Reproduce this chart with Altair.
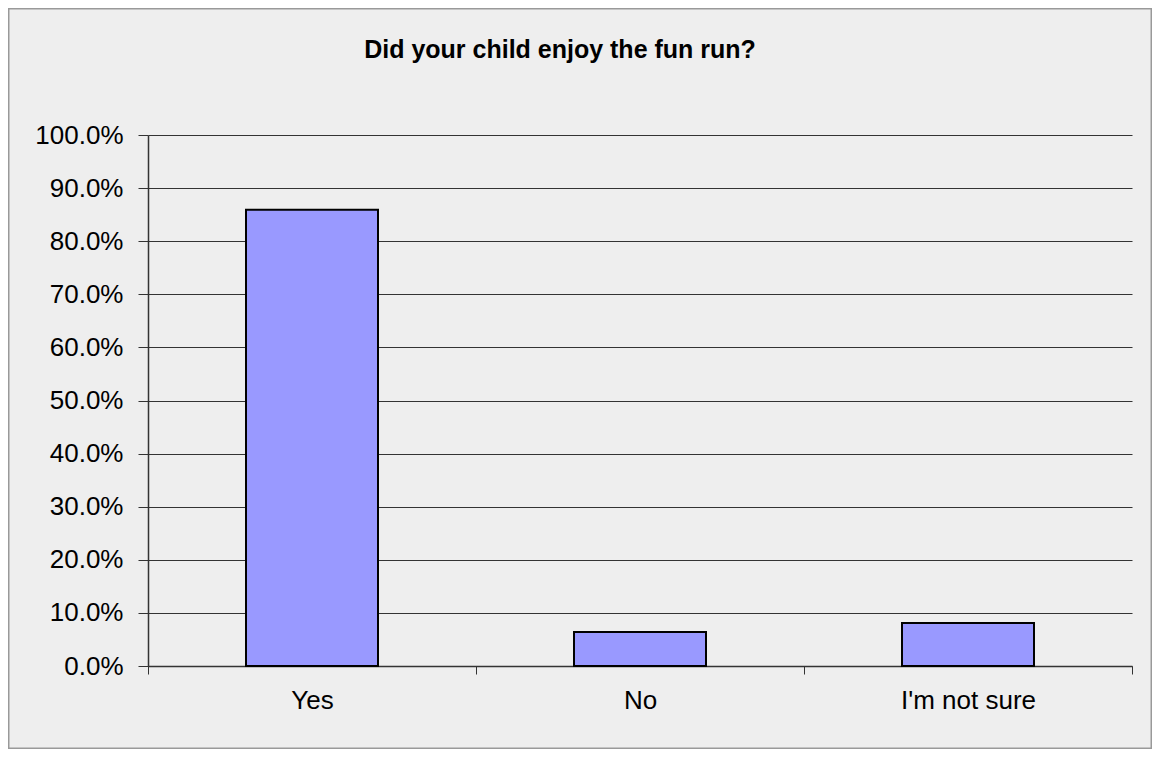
import altair as alt
import pandas as pd

categories = ["Yes", "No", "I'm not sure"]
shares = [0.859, 0.064, 0.081]
y_ticks = [0.0, 0.1, 0.2, 0.3, 0.4, 0.5, 0.6, 0.7, 0.8, 0.9, 1.0]

df = pd.DataFrame({"answer": categories, "share": shares})

PLOT_W, PLOT_H = 984, 531
PAD_L, PAD_T, PAD_R, PAD_B = 140, 127, 20, 83
FONT = "Liberation Sans"

bars = alt.Chart(df).mark_bar(
    size=132, color="#9999FF", stroke="#000000", strokeWidth=2
).encode(
    x=alt.X(
        "answer:N",
        sort=categories,
        title=None,
        scale=alt.Scale(paddingInner=0, paddingOuter=0),
        axis=alt.Axis(
            labelAngle=0,
            labelFont=FONT,
            labelFontSize=26,
            labelColor="#000000",
            labelBaseline="alphabetic",
            labelPadding=34,
            tickBand="extent",
            tickSize=8,
            tickColor="#333333",
            domainColor="#333333",
            domainWidth=1.5,
            grid=False,
        ),
    ),
    y=alt.Y(
        "share:Q",
        title=None,
        scale=alt.Scale(domain=[0, 1], nice=False),
        axis=alt.Axis(
            values=y_ticks,
            format=".1%",
            labelFont=FONT,
            labelFontSize=26,
            labelColor="#000000",
            labelPadding=15,
            tickSize=10,
            tickColor="#333333",
            domainColor="#333333",
            domainWidth=1.5,
            grid=True,
            gridColor="#333333",
            gridWidth=1.2,
        ),
    ),
)

border = alt.Chart(pd.DataFrame({"k": [0]})).mark_rect(
    fill=None, stroke="#999999", strokeWidth=1.5, clip=False
).encode(
    x=alt.value(-PAD_L + 0.75),
    x2=alt.value(PLOT_W + PAD_R - 0.75),
    y=alt.value(-PAD_T + 0.75),
    y2=alt.value(PLOT_H + PAD_B - 0.75),
)

chart = alt.layer(bars, border).properties(
    width=PLOT_W,
    height=PLOT_H,
    padding={"left": PAD_L, "top": PAD_T, "right": PAD_R, "bottom": PAD_B},
    autosize=alt.AutoSizeParams(type="none"),
    background="#EEEEEE",
    title=alt.TitleParams(
        "Did your child enjoy the fun run?",
        font=FONT,
        fontSize=25,
        fontWeight="bold",
        color="#000000",
        anchor="middle",
        frame="group",
        dx=-80,
        baseline="alphabetic",
        offset=-75,
    ),
).configure_view(stroke=None)

chart.save("out.html", embed_options={"renderer": "svg", "actions": False})
